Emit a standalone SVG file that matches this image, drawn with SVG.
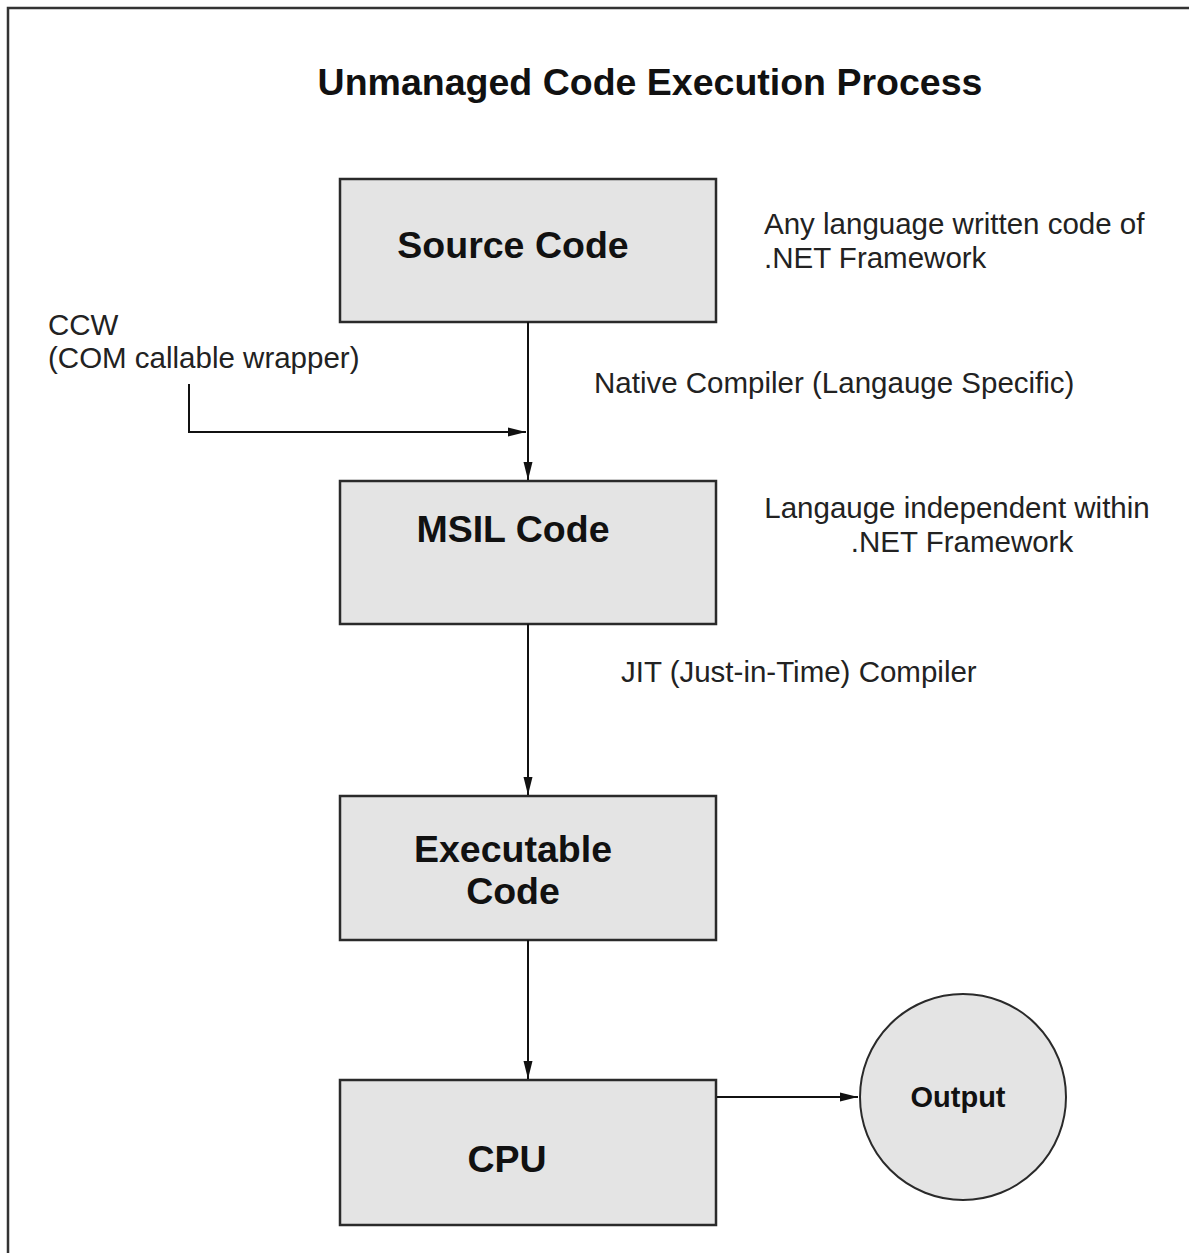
<svg xmlns="http://www.w3.org/2000/svg" width="1189" height="1253" viewBox="0 0 1189 1253">
<style>
.box{fill:#e4e4e4;stroke:#2a2a2a;stroke-width:2.5}
.lbl{font-family:"Liberation Sans",Arial,sans-serif;font-weight:bold;fill:#111;text-anchor:middle}
.note{font-family:"Liberation Sans",Arial,sans-serif;font-size:29.5px;fill:#222}
.edge{fill:none;stroke:#111;stroke-width:2}
</style>
<defs>
<marker id="ah" viewBox="0 0 20 12" refX="20" refY="6" markerWidth="18" markerHeight="11" markerUnits="userSpaceOnUse" orient="auto">
<path d="M0,1 L20,6 L0,11 Z" fill="#111"/>
</marker>
</defs>
<rect width="1189" height="1253" fill="#fff"/>
<rect x="8" y="8" width="1200" height="1270" fill="none" stroke="#333" stroke-width="2.5"/>
<text x="650" y="95" class="lbl" font-size="37.5">Unmanaged Code Execution Process</text>

<g id="source">
<rect class="box" x="340" y="179" width="376" height="143"/>
<text x="513" y="258" class="lbl" font-size="37.5">Source Code</text>
</g>
<g id="msil">
<rect class="box" x="340" y="481" width="376" height="143"/>
<text x="513" y="542" class="lbl" font-size="37.5">MSIL Code</text>
</g>
<g id="exec">
<rect class="box" x="340" y="796" width="376" height="144"/>
<text x="513" y="862" class="lbl" font-size="37.5">Executable</text>
<text x="513" y="904" class="lbl" font-size="37.5">Code</text>
</g>
<g id="cpu">
<rect class="box" x="340" y="1080" width="376" height="145"/>
<text x="507" y="1172" class="lbl" font-size="37.5">CPU</text>
</g>
<g id="output">
<circle cx="963" cy="1097" r="103" fill="#e4e4e4" stroke="#2a2a2a" stroke-width="2"/>
<text x="958" y="1107" class="lbl" font-size="29">Output</text>
</g>

<g id="notes">
<text x="764" y="234" class="note">Any language written code of</text>
<text x="764" y="268" class="note">.NET Framework</text>
<text x="594" y="393" class="note">Native Compiler (Langauge Specific)</text>
<text x="957" y="518" class="note" text-anchor="middle">Langauge independent within</text>
<text x="962" y="552" class="note" text-anchor="middle">.NET Framework</text>
<text x="621" y="682" class="note">JIT (Just-in-Time) Compiler</text>
<text x="48" y="335" class="note">CCW</text>
<text x="48" y="368" class="note">(COM callable wrapper)</text>
</g>

<g id="connectors">
<path class="edge" d="M528,322 V480" marker-end="url(#ah)"/>
<path class="edge" d="M189,384 V432 H526" marker-end="url(#ah)"/>
<path class="edge" d="M528,624 V795" marker-end="url(#ah)"/>
<path class="edge" d="M528,940 V1079" marker-end="url(#ah)"/>
<path class="edge" d="M717,1097 H858" marker-end="url(#ah)"/>
</g>
</svg>
